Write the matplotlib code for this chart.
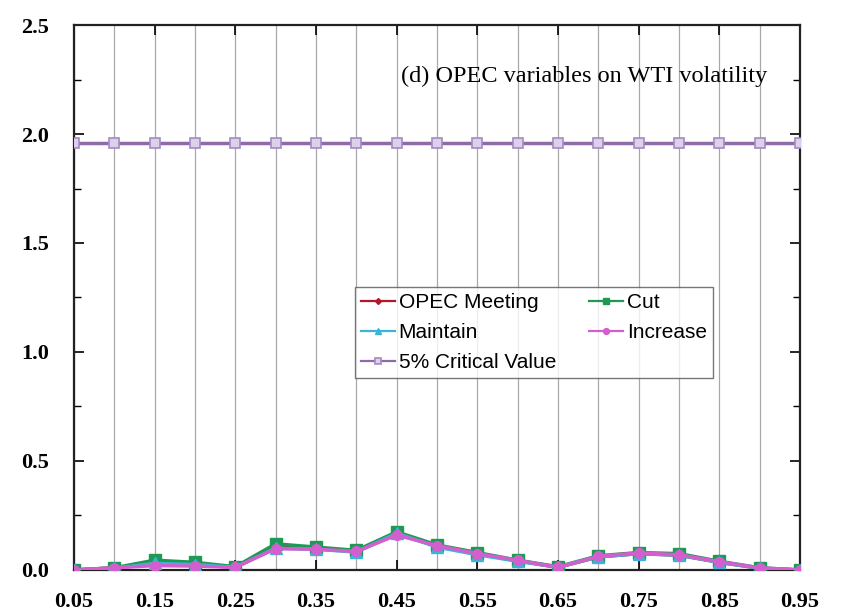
import matplotlib
matplotlib.use("Agg")
import matplotlib.pyplot as plt
import numpy as np

quantiles = [0.05, 0.10, 0.15, 0.20, 0.25, 0.30, 0.35, 0.40, 0.45, 0.50,
             0.55, 0.60, 0.65, 0.70, 0.75, 0.80, 0.85, 0.90, 0.95]
opec_meeting = [0.00, 0.01, 0.03, 0.025, 0.012, 0.105, 0.10, 0.085, 0.165, 0.11,
                0.075, 0.042, 0.012, 0.06, 0.075, 0.068, 0.035, 0.008, 0.00]
cut = [0.00, 0.01, 0.045, 0.035, 0.015, 0.12, 0.105, 0.09, 0.175, 0.115,
       0.08, 0.045, 0.015, 0.065, 0.08, 0.075, 0.04, 0.01, 0.00]
maintain = [0.00, 0.008, 0.03, 0.025, 0.012, 0.10, 0.095, 0.082, 0.168, 0.105,
            0.07, 0.04, 0.013, 0.06, 0.075, 0.068, 0.035, 0.008, 0.00]
increase = [0.00, 0.01, 0.02, 0.018, 0.012, 0.098, 0.095, 0.085, 0.16, 0.112,
            0.075, 0.045, 0.012, 0.063, 0.078, 0.07, 0.038, 0.01, 0.00]
critical = [1.96] * len(quantiles)

xtick_vals = [0.05, 0.15, 0.25, 0.35, 0.45, 0.55, 0.65, 0.75, 0.85, 0.95]
ytick_vals = [0.0, 0.5, 1.0, 1.5, 2.0, 2.5]

fig = plt.figure(figsize=(8.46, 6.16), dpi=100)
ax = fig.add_axes([0.0875, 0.0747, 0.8581, 0.8847])

ax.plot(quantiles, critical, color="#8e6aa6", lw=2.5, marker="s", ms=7.5,
        mfc="#ddd0ea", mec="#a58ac0", mew=1.2, label="5% Critical Value", zorder=3)
ax.plot(quantiles, opec_meeting, color="#b0182a", lw=2.5, marker="D", ms=5,
        label="OPEC Meeting", zorder=4)
ax.plot(quantiles, cut, color="#1f9a55", lw=2.5, marker="s", ms=8,
        label="Cut", zorder=4)
ax.plot(quantiles, maintain, color="#3ab4d8", lw=2.5, marker="^", ms=8,
        label="Maintain", zorder=5)
ax.plot(quantiles, increase, color="#d35fcf", lw=2.5, marker="o", ms=7,
        label="Increase", zorder=6)

ax.set_xlim(0.05, 0.95)
ax.set_ylim(0.0, 2.5)
ax.set_xticks(quantiles, minor=True)
ax.set_xticks(xtick_vals)
ax.set_yticks(ytick_vals)
ax.set_yticks(np.arange(0, 2.51, 0.25), minor=True)
ax.grid(True, axis="x", which="both", color="#a8a8a8", lw=0.9)
ax.tick_params(which="both", direction="in", top=True, right=True)
ax.tick_params(which="major", length=7, width=1.2)
ax.tick_params(which="minor", length=5, width=1.0)
ax.tick_params(axis="x", which="minor", length=0)
ax.tick_params(axis="x", pad=16)
ax.tick_params(axis="y", pad=18)
ax.set_xticklabels(["%.2f" % v for v in xtick_vals], fontfamily="Liberation Serif",
                   fontweight="bold", fontsize=16)
ax.set_yticklabels(["%.1f" % v for v in ytick_vals], fontfamily="Liberation Serif",
                   fontweight="bold", fontsize=16)
for s in ax.spines.values():
    s.set_linewidth(1.6)
    s.set_color("#222222")

ax.text(0.955, 0.905, "(d) OPEC variables on WTI volatility", transform=ax.transAxes,
        ha="right", va="center", fontfamily="Liberation Serif", fontsize=17.5)

handles, labels = ax.get_legend_handles_labels()
# row-major: OPEC Meeting, Cut / Maintain, Increase / 5% Critical Value
order = [1, 3, 0, 2, 4]
leg = ax.legend([handles[i] for i in order], [labels[i] for i in order],
                ncol=2, loc="upper left", bbox_to_anchor=(0.387, 0.519),
                borderaxespad=0.0,
                prop={"family": "Liberation Sans", "size": 15},
                frameon=True, fancybox=False, edgecolor="#555555",
                handlelength=1.6, handletextpad=0.2, columnspacing=1.6,
                borderpad=0.3, labelspacing=0.52, markerscale=0.6)
leg.get_frame().set_linewidth(1.0)
for ln in leg.get_lines():
    ln.set_linewidth(1.6)

fig.savefig("out.png", dpi=100)
